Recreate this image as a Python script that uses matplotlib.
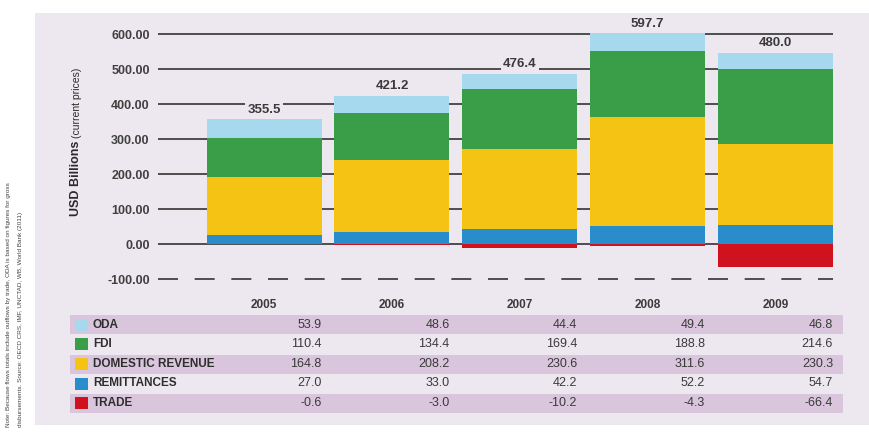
import matplotlib.pyplot as plt
from matplotlib.patches import Rectangle
from matplotlib.transforms import blended_transform_factory

plt.rcParams["font.family"] = ["Liberation Sans", "DejaVu Sans"]

# Data (USD billions, current prices)
years = ["2005", "2006", "2007", "2008", "2009"]
oda = [53.9, 48.6, 44.4, 49.4, 46.8]
fdi = [110.4, 134.4, 169.4, 188.8, 214.6]
domestic = [164.8, 208.2, 230.6, 311.6, 230.3]
remittances = [27.0, 33.0, 42.2, 52.2, 54.7]
trade = [-0.6, -3.0, -10.2, -4.3, -66.4]

series_names = ["ODA", "FDI", "DOMESTIC REVENUE", "REMITTANCES", "TRADE"]
series_values = [oda, fdi, domestic, remittances, trade]
colors = ["#a6d8ee", "#3a9d48", "#f5c313", "#2a8dcb", "#d0121f"]

panel_color = "#ede8f0"
band_color = "#d9c5dc"
text_color = "#3a3a3a"

fig = plt.figure(figsize=(8.7, 4.32), dpi=100)

# lavender panel
fig.patches.append(Rectangle((0.040, 0.016), 0.96, 0.954, transform=fig.transFigure,
                             facecolor=panel_color, edgecolor="none", zorder=-2))

ax = fig.add_axes([0.1816, 0.346, 0.7759, 0.5914])
ax.set_facecolor("none")
ax.set_zorder(1)

x = list(range(len(years)))
width = 0.9

# gridlines behind bars
for v in range(0, 700, 100):
    ax.axhline(v, color="#333333", lw=1.2, zorder=1)
ax.axhline(-100, color="#333333", lw=1.2, linestyle=(0, (12, 10)), zorder=1)

# stacked bars (positive part)
bottom = [0] * len(years)
for vals, col in [(remittances, colors[3]), (domestic, colors[2]),
                  (fdi, colors[1]), (oda, colors[0])]:
    ax.bar(x, vals, width, bottom=bottom, color=col, zorder=2)
    bottom = [b + v for b, v in zip(bottom, vals)]

# trade goes below zero
ax.bar(x, trade, width, color=colors[4], zorder=2)

# net total labels above each bar
for i in x:
    total = oda[i] + fdi[i] + domestic[i] + remittances[i] + trade[i]
    ax.text(i, bottom[i] + 28, f"{total:.1f}", ha="center", va="center",
            fontsize=9.5, fontweight="bold", color=text_color, zorder=3,
            bbox=dict(facecolor=panel_color, edgecolor="none", pad=1.5))

ax.set_xlim(-0.83, 4.45)
ax.set_ylim(-110, 620)
ax.set_yticks(range(-100, 700, 100))
ax.set_yticklabels([f"{v:.2f}" for v in range(-100, 700, 100)],
                   fontsize=9, fontweight="bold", color="#404040")
ax.set_xticks([])
ax.tick_params(axis="y", length=0, pad=6)
for s in ax.spines.values():
    s.set_visible(False)

# y axis title
fig.text(0.087, 0.500, "USD Billions", rotation=90, ha="center", va="bottom",
         fontsize=9, fontweight="bold", color="#2a2a2a")
fig.text(0.088, 0.680, "(current prices)", rotation=90, ha="center", va="bottom",
         fontsize=7.5, color="#2a2a2a")

# data table below chart
trans = blended_transform_factory(ax.transData, fig.transFigure)
H = 432.0

for i, yr in enumerate(years):
    fig.text(i, 1 - 305 / H, yr, transform=trans, ha="center", va="center",
             fontsize=8.5, fontweight="bold", color=text_color)

row_centers = [324.5, 344, 364, 383.5, 403]
for r, (name, vals, col) in enumerate(zip(series_names, series_values, colors)):
    yc = 1 - row_centers[r] / H
    if r % 2 == 0:
        fig.patches.append(Rectangle((0.0805, yc - 9.5 / H), 0.888, 19 / H,
                                     transform=fig.transFigure, facecolor=band_color,
                                     edgecolor="none", zorder=-1))
    fig.patches.append(Rectangle((75 / 870, yc - 6 / H), 13 / 870, 12 / H,
                                 transform=fig.transFigure, facecolor=col,
                                 edgecolor="none", zorder=0))
    fig.text(93 / 870, yc, name, ha="left", va="center", fontsize=8.5,
             fontweight="bold", color="#2e2e2e")
    for i, v in enumerate(vals):
        fig.text(i + 0.45, yc, f"{v:.1f}", transform=trans, ha="right",
                 va="center", fontsize=9, color=text_color)

# source note on the left
fig.text(0.010, 0.012,
         "Note: Because flows totals include outflows by trade, ODA is based on figures for gross",
         rotation=90, ha="center", va="bottom", fontsize=4.6, color="#444444")
fig.text(0.023, 0.012,
         "disbursements. Source: OECD CRS, IMF, UNCTAD, WB, World Bank (2011)",
         rotation=90, ha="center", va="bottom", fontsize=4.6, color="#444444")

plt.savefig("out.png", dpi=100)
